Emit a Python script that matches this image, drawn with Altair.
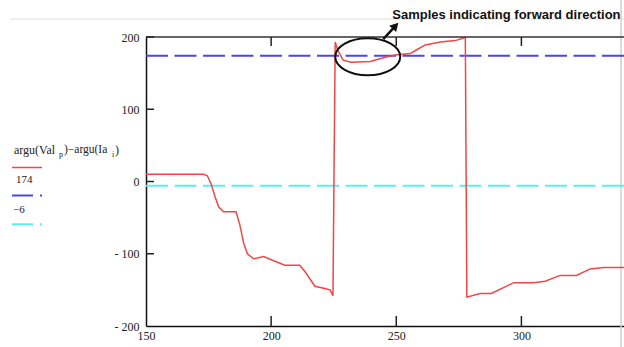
import altair as alt
import pandas as pd

# Phase difference argu(Va1_p) - argu(Ia_i), in degrees, per sample index
sample_x = [150, 173, 174.5, 176, 177.5, 179, 181, 186, 187.5, 189, 190.5, 193, 197,
            202, 205.5, 211.5, 214, 217.5, 221.5, 223.5, 224.7,
            225.6, 226.6, 228.8, 232, 239.6, 245.6, 249.6, 255.6, 258, 261.6,
            267.6, 273.6, 277.2, 277.6,
            278.2, 283.5, 288, 297, 305, 309.5, 315.5, 322, 327.5, 333, 341]
phase_diff = [10, 10, 8, -3, -20, -35, -42, -42, -60, -85, -100, -107, -104,
              -111, -116, -116, -127, -145, -148, -150, -158,
              193, 182, 168, 165, 166, 172, 175, 177, 182, 189,
              193, 195, 199, 199,
              -160, -155, -155, -140, -140, -138, -130, -130, -121, -119, -119]

ref_levels = [174, -6]
ref_labels = ["174", "\u22126"]
ref_colors = ["#4848e4", "#5af0f0"]
line_color = "#f04646"

x_ticks = [150, 200, 250, 300]
y_ticks = [-200, -100, 0, 100, 200]

annotation_text = "Samples indicating forward direction"
ellipse_center = {"x": 238.6, "y": 172.7}
arrow_start = {"x": 244.8, "y": 197}
arrow_base = {"x": 249.7, "y": 215.4}

W, H = 478, 289
xs = alt.Scale(domain=[150, 341], nice=False, zero=False)
ys = alt.Scale(domain=[-200, 200], nice=False, zero=False)
SERIF = "Liberation Serif"

x_axis = alt.Axis(
    values=x_ticks, title=None, ticks=False, grid=False, domainColor="#111",
    domainWidth=1.5, labelFont=SERIF, labelFontSize=12, labelColor="#222",
    labelPadding=4, labelFlush=False)
y_axis = alt.Axis(
    values=y_ticks, title=None, ticks=False, grid=False, domainColor="#111",
    domainWidth=1.5, labelFont=SERIF, labelFontSize=12, labelColor="#222",
    labelPadding=7, labelFlush=False,
    labelExpr="datum.value < 0 ? '- ' + abs(datum.value) : datum.label")


def X(field="x"):
    return alt.X(f"{field}:Q", scale=xs, axis=x_axis)


def Y(field="y"):
    return alt.Y(f"{field}:Q", scale=ys, axis=y_axis)


series = pd.DataFrame({"x": sample_x, "y": phase_diff})
trace = alt.Chart(series).mark_line(color=line_color, strokeWidth=1.5).encode(
    x=X(), y=Y(), order=alt.Order("x:Q"))

refs = pd.DataFrame({"y": ref_levels, "c": ref_colors})
ref_lines = alt.Chart(refs).mark_rule(strokeDash=[22, 6.5], strokeWidth=2).encode(
    y=Y(), color=alt.Color("c:N", scale=None))

# inward ticks on bottom, top and left edges
xt = pd.DataFrame({"x": x_ticks[1:]})
bottom_ticks = alt.Chart(xt).mark_rule(color="#222", strokeWidth=1.5).encode(
    x=X(), y=alt.value(H), y2=alt.value(H - 10))
top_ticks = alt.Chart(xt).mark_rule(color="#222", strokeWidth=1.5).encode(
    x=X(), y=alt.value(0), y2=alt.value(9))
yt = pd.DataFrame({"y": y_ticks[1:]})
left_ticks = alt.Chart(yt).mark_rule(color="#222", strokeWidth=1.5).encode(
    y=Y(), x=alt.value(0), x2=alt.value(8))

one = alt.Data(values=[{}])
top_edge = alt.Chart(one).mark_rule(color="#333", strokeWidth=1.5).encode(
    x=alt.value(0), x2=alt.value(W), y=alt.value(0))
frame_h = alt.Chart(one).mark_rule(color="#dcdcdc", strokeWidth=1).encode(
    x=alt.value(-136), x2=alt.value(W), y=alt.value(-18))
frame_v = alt.Chart(one).mark_rule(color="#cfcfcf", strokeWidth=1.5).encode(
    x=alt.value(475), y=alt.value(-37), y2=alt.value(H + 21))

# callout: ellipse around the samples, arrow and caption
ellipse = alt.Chart(pd.DataFrame([ellipse_center])).mark_point(
    shape="M -1 0 A 1 0.57 0 1 0 1 0 A 1 0.57 0 1 0 -1 0 Z",
    size=4225, filled=False, color="#111", strokeWidth=2, opacity=1,
).encode(x=X(), y=Y())

arrow_line = alt.Chart(pd.DataFrame([arrow_start, arrow_base])).mark_line(
    color="#111", strokeWidth=2.5).encode(x=X(), y=Y())
arrow_head = alt.Chart(pd.DataFrame([arrow_base])).mark_point(
    shape="triangle-up", size=90, filled=True, color="#111", opacity=1, angle=43,
).encode(x=X(), y=Y())

caption = alt.Chart(pd.DataFrame([{"x": 248.4, "y": 230.4, "t": annotation_text}])).mark_text(
    align="left", baseline="middle", font="Liberation Sans", fontWeight="bold",
    fontSize=13, color="#111").encode(x=X(), y=Y(), text="t:N")


# legend at the left of the plot
def label(txt, px, py, size=11):
    return alt.Chart(one).mark_text(
        text=txt, align="left", baseline="middle", font=SERIF, fontSize=size,
        color="#222").encode(x=alt.value(px), y=alt.value(py))


def seg(px0, px1, py, color, width=2):
    return alt.Chart(one).mark_rule(color=color, strokeWidth=width).encode(
        x=alt.value(px0), x2=alt.value(px1), y=alt.value(py))


legend = [
    label("argu(Val", -132, 113, 12),
    label("p", -87, 118, 8),
    label(")\u2212argu(Ia", -82, 113, 11.5),
    label("i", -34, 118, 8),
    label(")", -31, 113, 12),
    seg(-134, -104, 130.5, line_color, 1.5),
    label(ref_labels[0], -130, 143),
    seg(-134, -113, 158.5, ref_colors[0]),
    seg(-106, -104, 158.5, ref_colors[0]),
    label(ref_labels[1], -133, 173),
    seg(-134, -113, 187.3, ref_colors[1]),
    seg(-106, -104, 187.3, ref_colors[1]),
]

chart = alt.layer(
    frame_h, frame_v, ref_lines, trace, top_edge, bottom_ticks, top_ticks, left_ticks,
    ellipse, arrow_line, arrow_head, caption, *legend,
).properties(
    width=W, height=H,
    padding={"left": 146, "top": 37, "right": 0, "bottom": 21},
    autosize=alt.AutoSizeParams(type="none"),
    background="white",
).configure_view(stroke=None)

chart.save("out.html", embed_options={"renderer": "svg", "actions": False})
